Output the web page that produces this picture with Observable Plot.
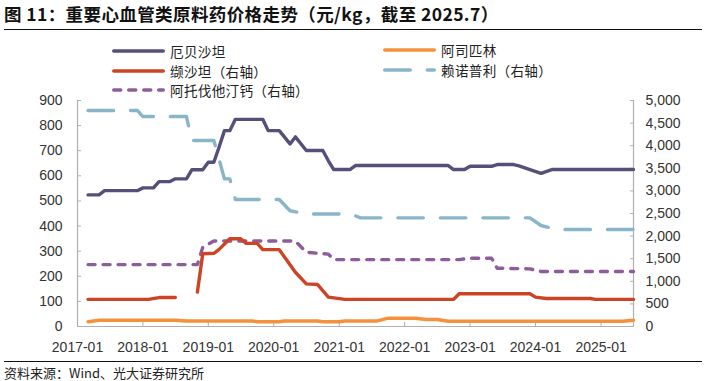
<!DOCTYPE html>
<html>
<head>
<meta charset="utf-8">
<script src="https://cdn.jsdelivr.net/npm/d3@7"></script>
<script src="https://cdn.jsdelivr.net/npm/@observablehq/plot@0.6"></script>
<style>
  html, body { margin: 0; padding: 0; background: #fff; }
  #wrap { position: relative; width: 706px; height: 381px; overflow: hidden; background: #fff; }
  .abs { position: absolute; white-space: nowrap; }
  #title { left: 4px; top: 4px; font: bold 17.5px/20px "Noto Sans CJK SC", sans-serif; letter-spacing: 0.4px; color: #111; }
  .rule { position: absolute; left: 4px; width: 698px; height: 0; border-top: 1.5px solid #111; }
  .leg { position: absolute; height: 16px; line-height: 16px; display: flex; align-items: center; font: 13.6px/16px "Noto Sans CJK SC", sans-serif; letter-spacing: 0.3px; color: #222; white-space: nowrap; }
  .leg svg { margin-right: 5px; }
  #source { left: 4px; top: 365px; font: 13px/15px "Noto Sans CJK SC", sans-serif; color: #222; }
  #chart { position: absolute; left: 0; top: 92px; }
</style>
</head>
<body>
<div id="wrap">
  <div id="title" class="abs"></div>
  <div class="rule" style="top:29px"></div>
  <div id="legend"></div>
  <div id="chart"></div>
  <div class="rule" style="top:361px"></div>
  <div id="source" class="abs"></div>
</div>
<script>
// ---------------- text ----------------
const titleText = "图 11：重要心血管类原料药价格走势（元/kg，截至 2025.7）";
const sourceText = "资料来源：Wind、光大证券研究所";

// ---------------- series names / colors ----------------
const seriesNames = ["厄贝沙坦", "阿司匹林", "缬沙坦（右轴）", "赖诺普利（右轴）", "阿托伐他汀钙（右轴）"];
const seriesColors = ["#55507a", "#f4913a", "#cc4424", "#89b5c9", "#8c5d9a"];

// ---------------- axis ticks ----------------
const leftTicks = [0, 100, 200, 300, 400, 500, 600, 700, 800, 900];
const rightTicks = [0, 500, 1000, 1500, 2000, 2500, 3000, 3500, 4000, 4500, 5000];
const yearTicks = ["2017-01", "2018-01", "2019-01", "2020-01", "2021-01", "2022-01", "2023-01", "2024-01", "2025-01"];
const xStart = "2017-01", xEnd = "2025-07";

// ---------------- data (left axis) ----------------
// 厄贝沙坦
const irbesartanMonths = ["2017-03","2017-05","2017-06","2017-12","2018-01","2018-03","2018-04","2018-06","2018-07","2018-09","2018-10","2018-12","2019-01","2019-02","2019-03","2019-04","2019-05","2019-06","2019-11","2019-12","2020-02","2020-04","2020-05","2020-07","2020-10","2020-11","2020-12","2021-03","2021-04","2022-09","2022-10","2022-12","2023-01","2023-05","2023-06","2023-09","2023-10","2023-12","2024-02","2024-04","2025-07"];
const irbesartanValues = [524,524,541,541,552,552,577,577,588,588,624,624,654,654,712,780,780,825,825,780,780,727,755,701,701,660,625,625,641,641,625,625,638,638,645,645,640,625,610,625,625];
// 阿司匹林
const aspirinMonths = ["2017-03","2017-05","2018-07","2018-09","2019-09","2019-10","2020-02","2020-03","2020-09","2020-10","2021-01","2021-02","2021-08","2021-10","2022-03","2022-05","2022-07","2022-09","2025-05","2025-07"];
const aspirinValues = [19,25,25,22,22,19,19,22,22,19,19,22,22,33,33,28,28,21,21,25];

// ---------------- data (right axis) ----------------
// 缬沙坦（null = no data, gap in line）
const valsartanMonths = ["2017-03","2018-02","2018-04","2018-07","2018-09","2018-11","2018-12","2019-02","2019-03","2019-05","2019-07","2019-08","2019-10","2019-11","2020-02","2020-05","2020-07","2020-09","2020-11","2021-02","2022-10","2022-11","2023-12","2024-01","2024-03","2024-11","2024-12","2025-07"];
const valsartanValues = [600,600,640,640,null,760,1610,1620,1700,1940,1940,1840,1840,1700,1700,1200,944,930,650,600,600,725,725,650,620,620,600,600];
// 赖诺普利
const lisinoprilMonths = ["2017-03","2017-12","2018-01","2018-09","2018-10","2019-02","2019-04","2019-05","2019-06","2020-02","2020-04","2020-07","2021-03","2021-05","2023-12","2024-02","2024-05","2025-07"];
const lisinoprilValues = [4780,4780,4645,4645,4114,4114,3267,3267,2810,2810,2560,2490,2490,2404,2404,2234,2146,2146];
// 阿托伐他汀钙
const atorvaMonths = ["2017-03","2018-11","2018-12","2019-02","2020-05","2020-07","2020-11","2020-12","2022-11","2023-01","2023-05","2023-06","2023-12","2024-02","2025-07"];
const atorvaValues = [1370,1370,1750,1890,1890,1643,1600,1480,1480,1511,1511,1290,1276,1217,1217];

// ---------------- build ----------------
const parse = d3.utcParse("%Y-%m");
const K = 900 / 5000; // right-axis value -> left-axis units
const fmtComma = d3.format(",");

function toRows(months, values, scale) {
  return months.map((m, i) => ({date: parse(m), v: values[i] == null ? NaN : values[i] * scale}));
}
const series = [
  {rows: toRows(irbesartanMonths, irbesartanValues, 1), dash: null},
  {rows: toRows(aspirinMonths, aspirinValues, 1), dash: null},
  {rows: toRows(valsartanMonths, valsartanValues, K), dash: null},
  {rows: toRows(lisinoprilMonths, lisinoprilValues, K), dash: "25.5,17"},
  {rows: toRows(atorvaMonths, atorvaValues, K), dash: "7,8"}
];
const drawOrder = [0, 1, 3, 4, 2];

document.getElementById("title").textContent = titleText;
document.getElementById("source").textContent = sourceText;

// legend
const legendPos = [
  {left: 112, top: 43}, {left: 383, top: 42},
  {left: 112, top: 62.5}, {left: 383, top: 61.5},
  {left: 112, top: 82}
];
const legend = document.getElementById("legend");
seriesNames.forEach((name, i) => {
  const div = document.createElement("div");
  div.className = "leg";
  div.style.left = legendPos[i].left + "px";
  div.style.top = legendPos[i].top + "px";
  const dash = series[i].dash ? `stroke-dasharray="${series[i].dash}"` : "";
  div.innerHTML = `<svg width="53" height="8"><line x1="1.75" x2="51.25" y1="4" y2="4" stroke="${seriesColors[i]}" stroke-width="3.5" stroke-linecap="round" ${dash}/></svg><span>${name}</span>`;
  legend.appendChild(div);
});

const axisColor = "#b0b0b0";
const x0 = parse(xStart), x1 = parse(xEnd);

const marks = [
  Plot.ruleY([0], {stroke: axisColor, strokeWidth: 1.2}),
  Plot.ruleX([x0, x1], {stroke: axisColor, strokeWidth: 1.2}),
  Plot.axisY({ticks: leftTicks, tickSize: -4, tickPadding: 19, label: null, stroke: axisColor, tickFormat: d => String(d)}),
  Plot.axisY({anchor: "right", ticks: rightTicks.map(v => v * K), tickSize: -4, tickPadding: 16, label: null, stroke: axisColor,
    tickFormat: d => fmtComma(Math.round(d / K))}),
  Plot.axisX({ticks: yearTicks.map(parse), tickSize: -4, tickPadding: 20, label: null, stroke: axisColor,
    tickFormat: d3.utcFormat("%Y-%m")})
];
drawOrder.forEach(i => {
  const s = series[i];
  marks.push(Plot.line(s.rows, {
    x: "date", y: "v", stroke: seriesColors[i], strokeWidth: 3.4,
    strokeLinecap: "round", strokeLinejoin: "round",
    ...(s.dash ? {strokeDasharray: s.dash} : {})
  }));
});

const chart = Plot.plot({
  width: 706,
  height: 268,
  marginTop: 8,
  marginBottom: 34,
  marginLeft: 77,
  marginRight: 73,
  x: {type: "utc", domain: [x0, x1]},
  y: {domain: [0, 900]},
  style: {fontFamily: "'Liberation Sans', Arial, sans-serif", fontSize: "14px", color: "#333", background: "transparent", overflow: "visible"},
  marks
});
document.getElementById("chart").appendChild(chart);
</script>
</body>
</html>
